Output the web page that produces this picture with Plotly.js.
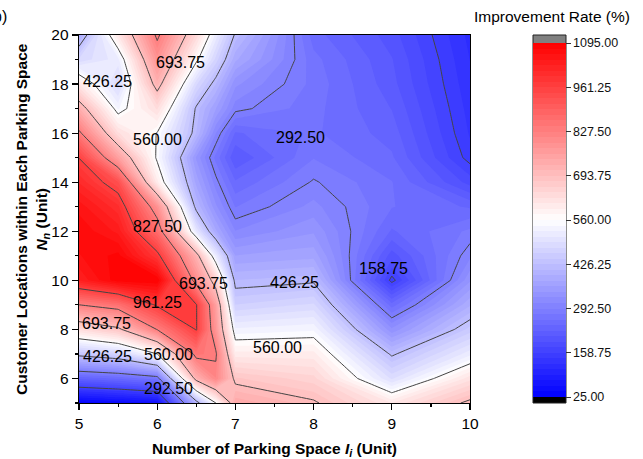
<!DOCTYPE html>
<html><head><meta charset="utf-8">
<script src="https://cdn.plot.ly/plotly-3.0.1.min.js"></script>
<style>html,body{margin:0;padding:0;background:#fff}#chart{width:643px;height:459px}</style>
</head><body><div id="chart"></div>
<script>
// Grid positions (Number of Parking Space, Customer Locations)
const xValues = [5, 5.5, 6, 6.5, 6.75, 7, 8, 9, 10];
const yValues = [5, 6, 7, 8, 9, 10, 11, 12, 13, 14, 15, 16, 17, 18, 19, 20];
// Improvement rate (%) rows, one per y value, columns follow xValues
const rowY05 = [30, 45, 60, 400, 560, 740, 700, 610, 705];
const rowY06 = [230, 245, 270, 720, 810, 680, 650, 490, 620];
const rowY07 = [443, 470, 560, 850, 835, 600, 600, 420, 520];
const rowY08 = [632, 680, 830, 965, 780, 530, 540, 330, 450];
const rowY09 = [827, 860, 970, 965, 760, 460, 480, 250, 390];
const rowY10 = [1030, 1090, 1095, 800, 660, 410, 420, 150, 340];
const rowY11 = [1060, 1085, 980, 720, 520, 360, 370, 200, 305];
const rowY12 = [1075, 1040, 870, 510, 380, 310, 340, 240, 280];
const rowY13 = [1055, 1000, 790, 410, 330, 275, 315, 260, 240];
const rowY14 = [1010, 930, 600, 370, 300, 245, 295, 260, 185];
const rowY15 = [960, 760, 552, 340, 270, 210, 275, 245, 150];
const rowY16 = [840, 630, 558, 410, 310, 240, 262, 235, 140];
const rowY17 = [730, 540, 630, 420, 360, 300, 265, 225, 135];
const rowY18 = [610, 480, 720, 480, 410, 330, 270, 215, 130];
const rowY19 = [480, 520, 785, 570, 470, 380, 265, 210, 125];
const rowY20 = [380, 610, 840, 640, 520, 420, 250, 200, 120];
const zRows = [rowY05, rowY06, rowY07, rowY08, rowY09, rowY10, rowY11, rowY12,
               rowY13, rowY14, rowY15, rowY16, rowY17, rowY18, rowY19, rowY20];
// Contour levels / colorbar ticks
const levels = [25, 158.75, 292.5, 426.25, 560, 693.75, 827.5, 961.25, 1095];
const levelText = levels.map(v => v.toFixed(2));
const xTicks = [5, 6, 7, 8, 9, 10];
const yTicks = [6, 8, 10, 12, 14, 16, 18, 20];
// Which contour level each in-plot label names (index into levels)
const labelLevelIdx = [3, 5, 4, 2, 6, 5, 3, 1, 7, 5, 4, 3, 4, 2];

const FONT = 'Arial, "Liberation Sans", Helvetica, sans-serif';
const zMin = levels[0], zMax = levels[levels.length - 1];
const step = levels[1] - levels[0];
const cs = [[0, 'rgb(0,0,255)'], [0.5, 'rgb(255,255,255)'], [1, 'rgb(255,0,0)']];

// plot area pixel geometry
const W = 643, H = 459, L = 79, R = 470, T = 35, B = 403;
const px2x = p => (p - L) / (R - L);
const py2y = p => (B - p) / (B - T);

// label placements (data coordinates), matching the reference's label spots
const labelPos = [
  [5.37, 18.09], [6.30, 18.86], [6.01, 15.76], [7.83, 15.84], [6.01, 12.20],
  [6.59, 9.89], [7.76, 9.93], [8.90, 10.50], [6.01, 9.08], [5.35, 8.26],
  [7.54, 7.28], [5.36, 6.88], [6.15, 6.96], [6.15, 5.60]
];

const fill = {
  type: 'contour', x: xValues, y: yValues, z: zRows,
  zmin: zMin, zmax: zMax, zauto: false,
  colorscale: cs,
  contours: {start: zMin, end: zMax, size: step / 8, coloring: 'fill', showlines: false},
  line: {width: 0, smoothing: 0},
  hoverinfo: 'skip',
  colorbar: {
    x: px2x(533), xanchor: 'left', xpad: 0, ypad: 0,
    y: py2y(220), yanchor: 'middle',
    thickness: 33, thicknessmode: 'pixels',
    len: 354, lenmode: 'pixels',
    outlinewidth: 0,
    tickmode: 'array', tickvals: levels, ticktext: levelText,
    ticks: 'outside', ticklen: 5, tickwidth: 1, tickcolor: '#333',
    tickfont: {family: FONT, size: 12.5, color: '#111'}
  }
};
const lines = {
  type: 'contour', x: xValues, y: yValues, z: zRows,
  zmin: zMin, zmax: zMax, showscale: false,
  contours: {start: levels[1], end: levels[7], size: step, coloring: 'none', showlabels: false},
  line: {color: '#444', width: 1, smoothing: 0},
  hoverinfo: 'skip'
};

const annotations = labelPos.map((p, i) => ({
  xref: 'x', yref: 'y', x: p[0], y: p[1], xanchor: 'center', yanchor: 'middle',
  text: levelText[labelLevelIdx[i]], showarrow: false,
  font: {family: FONT, size: 16, color: '#000'}
}));
annotations.push(
  {xref: 'paper', yref: 'paper', x: px2x(552), y: py2y(17), xanchor: 'center', yanchor: 'middle',
   text: 'Improvement Rate (%)', showarrow: false, font: {family: FONT, size: 15.5, color: '#000'}},
  {xref: 'paper', yref: 'paper', x: px2x(9), y: py2y(17), xanchor: 'right', yanchor: 'middle',
   text: 'b)', showarrow: false, font: {family: FONT, size: 16, color: '#000'}},
  {xref: 'paper', yref: 'paper', x: px2x(32), y: py2y(219), xanchor: 'center', yanchor: 'middle',
   textangle: -90, showarrow: false,
   text: '<b>Customer Locations within Each Parking Space<br><i>N</i><sub><i>n</i></sub> (Unit)</b>',
   font: {family: FONT, size: 15.5, color: '#000'}}
);

const layout = {
  width: W, height: H,
  margin: {l: L, r: W - R, t: T, b: H - B},
  paper_bgcolor: '#fff', plot_bgcolor: '#fff',
  font: {family: FONT, color: '#000'},
  showlegend: false,
  xaxis: {
    range: [5, 10], tickmode: 'array', tickvals: xTicks,
    ticks: 'outside', ticklen: 6, tickwidth: 1.2, tickcolor: '#000',
    showline: true, linecolor: '#000', linewidth: 1.3, mirror: true,
    showgrid: false, zeroline: false,
    tickfont: {family: FONT, size: 15.5},
    minor: {dtick: 0.5, ticks: 'outside', ticklen: 3, tickcolor: '#000', showgrid: false},
    title: {text: '<b>Number of Parking Space <i>I</i><sub><i>i</i></sub> (Unit)</b>',
            font: {family: FONT, size: 15.5}, standoff: 12},
    automargin: false
  },
  yaxis: {
    range: [5, 20], tickmode: 'array', tickvals: yTicks,
    ticks: 'outside', ticklen: 6, tickwidth: 1.2, tickcolor: '#000',
    showline: true, linecolor: '#000', linewidth: 1.3, mirror: true,
    showgrid: false, zeroline: false,
    tickfont: {family: FONT, size: 15.5},
    minor: {dtick: 1, ticks: 'outside', ticklen: 3, tickcolor: '#000', showgrid: false},
    automargin: false
  },
  shapes: [
    {type: 'rect', xref: 'paper', yref: 'paper', x0: px2x(533), x1: px2x(566), y0: py2y(43), y1: py2y(35),
     fillcolor: '#808080', line: {width: 0}},
    {type: 'rect', xref: 'paper', yref: 'paper', x0: px2x(533), x1: px2x(566), y0: py2y(403), y1: py2y(397),
     fillcolor: '#000', line: {width: 0}},
    {type: 'rect', xref: 'paper', yref: 'paper', x0: px2x(533), x1: px2x(566), y0: py2y(403), y1: py2y(35),
     fillcolor: 'rgba(0,0,0,0)', line: {color: '#222', width: 1}}
  ],
  annotations: annotations
};

Plotly.newPlot('chart', [fill, lines], layout, {displayModeBar: false, staticPlot: true});
</script>
</body></html>
